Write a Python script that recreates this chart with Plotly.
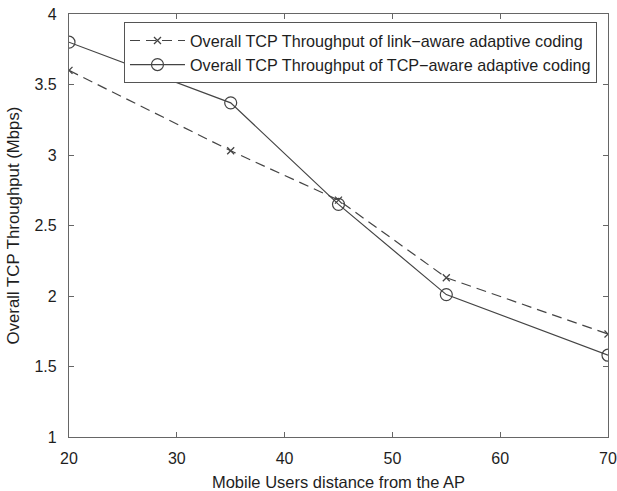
import plotly.graph_objects as go

distance = [20, 35, 45, 55, 70]
link_aware = [3.60, 3.03, 2.68, 2.13, 1.73]
tcp_aware = [3.80, 3.37, 2.65, 2.01, 1.58]

x_ticks = [20, 30, 40, 50, 60, 70]
y_ticks = [1, 1.5, 2, 2.5, 3, 3.5, 4]
y_tick_text = ["1", "1.5", "2", "2.5", "3", "3.5", "4"]

line_col = "#444444"
font = "Liberation Sans, Arial, sans-serif"
txt_col = "#1e1e1e"

fig = go.Figure()
fig.add_trace(go.Scatter(
    x=distance, y=link_aware, mode="lines+markers",
    name="Overall TCP Throughput of link\u2212aware adaptive coding",
    line=dict(color=line_col, width=1.2, dash="10px,6px"),
    marker=dict(symbol="x-thin", size=7, line=dict(color=line_col, width=1.3), color=line_col),
))
fig.add_trace(go.Scatter(
    x=distance, y=tcp_aware, mode="lines+markers",
    name="Overall TCP Throughput of TCP\u2212aware adaptive coding",
    line=dict(color=line_col, width=1.2),
    marker=dict(symbol="circle-open", size=12, line=dict(color=line_col, width=1.2), color=line_col),
))

axis_common = dict(
    showgrid=False, zeroline=False, showline=True, linecolor="#666666", linewidth=1.3,
    mirror="ticks", ticks="inside", ticklen=5, tickcolor="#666666",
    tickfont=dict(family=font, size=16, color=txt_col), automargin=False,
)
fig.update_xaxes(range=[20, 70], tickvals=x_ticks, ticklabelstandoff=7,
                 title=dict(text="Mobile Users distance from the AP",
                            font=dict(family=font, size=16.5, color=txt_col), standoff=14),
                 **axis_common)
fig.update_yaxes(range=[1, 4], tickvals=y_ticks, ticktext=y_tick_text, ticklabelstandoff=8,
                 title=dict(text="Overall TCP Throughput (Mbps)",
                            font=dict(family=font, size=16.8, color=txt_col), standoff=10),
                 **axis_common)

fig.update_layout(
    width=617, height=491,
    margin=dict(l=69, r=9, t=14, b=54),
    plot_bgcolor="white", paper_bgcolor="white",
    legend=dict(x=0.102, y=0.98, xanchor="left", yanchor="top",
                bgcolor="white", bordercolor="#555555", borderwidth=1,
                font=dict(family=font, size=16.2, color=txt_col),
                tracegroupgap=0, itemwidth=55),
    showlegend=True,
)

fig.write_html("out.html")
